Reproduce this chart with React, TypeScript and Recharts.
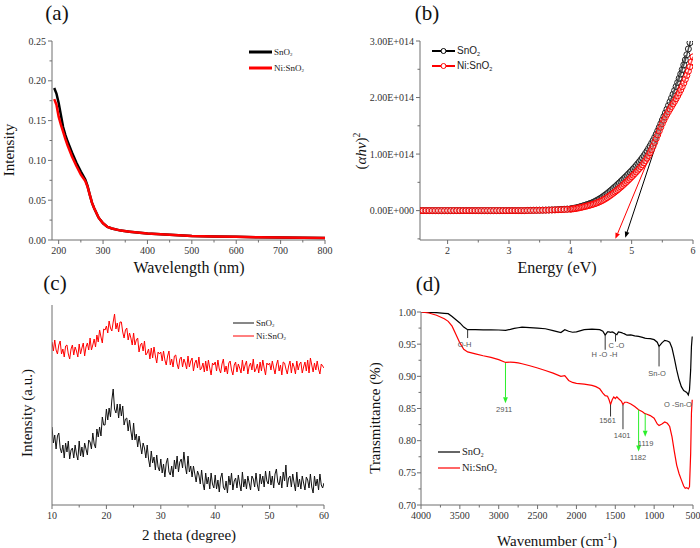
import React from 'react';
import { LineChart, Line, XAxis, YAxis, ReferenceLine, ReferenceDot } from 'recharts';

const SERIF = '"Liberation Serif", "Times New Roman", Times, serif';
const SANS = '"Liberation Sans", Arial, Helvetica, sans-serif';
const AXIS_DARK = '#6e6e6e';
const AXIS_LIGHT = '#b4b4b4';
const TICK_TEXT = '#333';
const RED = '#ff0000';
const GREEN = '#2bef2b';

// ---------- (a) UV-vis ----------
const UV_WAVELENGTH = [190, 195, 200, 205, 210, 215, 220, 230, 240, 250, 260, 265, 270, 275, 280, 290, 300, 310, 320, 340, 360, 400, 450, 500, 550, 600, 650, 700, 750, 800];
const UV_SNO2 = [0.191, 0.184, 0.172, 0.157, 0.142, 0.132, 0.124, 0.110, 0.097, 0.086, 0.076, 0.068, 0.057, 0.047, 0.040, 0.028, 0.021, 0.0165, 0.0145, 0.0118, 0.0105, 0.0082, 0.0065, 0.005, 0.0045, 0.004, 0.0035, 0.003, 0.0028, 0.0025];
const UV_NISNO2 = [0.177, 0.170, 0.155, 0.145, 0.136, 0.127, 0.119, 0.105, 0.093, 0.082, 0.074, 0.067, 0.057, 0.047, 0.040, 0.028, 0.021, 0.0165, 0.0145, 0.0118, 0.0105, 0.0082, 0.0065, 0.005, 0.0045, 0.004, 0.0035, 0.003, 0.0028, 0.0025];
const UV_X_TICKS = [200, 250, 300, 350, 400, 450, 500, 550, 600, 650, 700, 750, 800];
const UV_X_MAJOR = [200, 300, 400, 500, 600, 700, 800];
const UV_Y_TICKS = [0, 0.025, 0.05, 0.075, 0.1, 0.125, 0.15, 0.175, 0.2, 0.225, 0.25];
const UV_Y_MAJOR = [0, 0.05, 0.1, 0.15, 0.2, 0.25];

// ---------- (b) Tauc plot (values in units of 1E+014) ----------
const TAUC_FLAT_START = 1.55;
const TAUC_FLAT_STEP = 0.05;
const TAUC_RISE_START = 4.0;
const TAUC_RISE_STEP = 0.025;
const TAUC_SNO2_FLAT = [
  0, 0, 0, 0, 0, 0, 0, 0, 0, 0, 0, 0, 0, 0, 0, 0, 0, 0, 0, 0, 0, 0, 0, 0, 0, 0, 0, 0, 0, 0, 0, 0, 0, 0, 0,
  0.003, 0.004, 0.005, 0.006, 0.007, 0.008, 0.009, 0.011, 0.013, 0.015, 0.018, 0.021, 0.024, 0.027,
];
const TAUC_NISNO2_FLAT = [
  0, 0, 0, 0, 0, 0, 0, 0, 0, 0, 0, 0, 0, 0, 0, 0, 0, 0, 0, 0, 0, 0, 0, 0, 0, 0, 0, 0, 0, 0, 0, 0, 0, 0, 0,
  0.002, 0.003, 0.004, 0.005, 0.006, 0.007, 0.008, 0.009, 0.011, 0.013, 0.015, 0.017, 0.020, 0.022,
];
const TAUC_SNO2_RISE = [
  0.030, 0.034, 0.039, 0.044,
  0.050, 0.057, 0.064, 0.072,
  0.080, 0.088, 0.097, 0.106,
  0.115, 0.125, 0.135, 0.147,
  0.160, 0.175, 0.190, 0.205,
  0.222, 0.240, 0.260, 0.280,
  0.300, 0.322, 0.345, 0.368,
  0.392, 0.416, 0.440, 0.465,
  0.490, 0.516, 0.542, 0.568,
  0.595, 0.622, 0.650, 0.678,
  0.706, 0.736, 0.766, 0.797,
  0.829, 0.862, 0.896, 0.932,
  0.970, 1.010, 1.052, 1.096,
  1.142, 1.190, 1.240, 1.293,
  1.350, 1.410, 1.472, 1.536,
  1.600, 1.664, 1.728, 1.793,
  1.858, 1.924, 1.990, 2.057,
  2.125, 2.195, 2.266, 2.340,
  2.416, 2.495, 2.578, 2.665,
  2.758, 2.860, 2.970, 3.085,
  3.200,
];
const TAUC_NISNO2_RISE = [
  0.025, 0.028, 0.032, 0.036,
  0.040, 0.045, 0.051, 0.057,
  0.063, 0.069, 0.076, 0.083,
  0.090, 0.098, 0.106, 0.114,
  0.123, 0.133, 0.144, 0.156,
  0.168, 0.182, 0.197, 0.213,
  0.230, 0.249, 0.268, 0.288,
  0.308, 0.329, 0.350, 0.372,
  0.395, 0.418, 0.442, 0.467,
  0.492, 0.518, 0.544, 0.571,
  0.598, 0.626, 0.655, 0.684,
  0.714, 0.745, 0.777, 0.810,
  0.845, 0.885, 0.928, 0.975,
  1.025, 1.080, 1.140, 1.205,
  1.272, 1.340, 1.408, 1.475,
  1.540, 1.600, 1.655, 1.705,
  1.752, 1.798, 1.843, 1.888,
  1.933, 1.980, 2.030, 2.082,
  2.136, 2.194, 2.256, 2.322,
  2.392, 2.466, 2.545, 2.630,
  2.720,
];
const TAUC_TANGENT_SNO2 = [{ x: 5.88, y: 2.75 }, { x: 4.895, y: -0.48 }];
const TAUC_TANGENT_NISNO2 = [{ x: 5.9, y: 2.55 }, { x: 4.735, y: -0.5 }];
const TAUC_X_TICKS = [2, 2.5, 3, 3.5, 4, 4.5, 5, 5.5, 6];
const TAUC_X_MAJOR = [2, 3, 4, 5, 6];
const TAUC_Y_TICKS = [-0.5, 0, 0.5, 1, 1.5, 2, 2.5, 3];
const TAUC_Y_MAJOR = [0, 1, 2, 3];

// ---------- (c) XRD (arbitrary units) ----------
const XRD_START = 10;
const XRD_STEP = 0.25;
const XRD_SNO2 = [
  78, 62, 70, 56, 69, 72, 57, 52, 60, 47, 62, 53, 64, 46, 55, 57, 47, 60, 51, 45,
  64, 49, 58, 48, 62, 56, 50, 65, 63, 56, 72, 61, 57, 76, 68, 78, 69, 88, 80, 80,
  96, 85, 97, 88, 105, 116, 96, 92, 101, 87, 101, 89, 99, 80, 86, 87, 74, 85, 74, 65,
  82, 65, 71, 58, 69, 60, 51, 62, 57, 47, 60, 46, 38, 54, 42, 48, 35, 50, 38, 34,
  46, 32, 41, 28, 42, 47, 33, 30, 39, 28, 45, 36, 49, 33, 43, 46, 37, 53, 39, 31,
  49, 33, 39, 28, 39, 31, 23, 34, 30, 21, 35, 22, 15, 32, 21, 28, 16, 32, 21, 17,
  30, 16, 25, 13, 27, 32, 18, 15, 24, 12, 29, 20, 32, 15, 24, 27, 17, 30, 21, 14,
  33, 18, 26, 16, 29, 22, 15, 29, 26, 18, 32, 20, 14, 31, 21, 29, 18, 34, 24, 21,
  34, 20, 29, 17, 31, 36, 23, 20, 29, 17, 33, 24, 40, 18, 27, 29, 18, 31, 22, 14,
  33, 18, 26, 16, 29, 22, 15, 28, 25, 17, 31, 18, 12, 29, 19, 26, 15, 31, 20, 17,
  22,
];
const XRD_NISNO2 = [
  163, 154, 165, 155, 151, 160, 164, 151, 156, 148, 159, 160, 151, 146, 156, 160, 150, 158, 154, 148,
  161, 151, 157, 162, 149, 158, 162, 155, 167, 155, 160, 166, 158, 170, 163, 175, 168, 162, 176, 175,
  179, 172, 184, 177, 174, 183, 191, 176, 182, 173, 183, 183, 173, 167, 175, 177, 165, 172, 167, 160,
  172, 160, 165, 167, 153, 160, 162, 154, 164, 150, 152, 156, 146, 157, 147, 158, 149, 142, 153, 151,
  153, 144, 154, 145, 140, 149, 154, 140, 146, 138, 149, 150, 141, 136, 146, 148, 138, 146, 142, 136,
  149, 138, 144, 147, 134, 142, 145, 137, 148, 135, 137, 142, 133, 144, 134, 145, 137, 130, 142, 140,
  143, 134, 145, 136, 132, 141, 146, 133, 139, 131, 142, 144, 135, 130, 140, 143, 133, 141, 137, 132,
  145, 134, 140, 144, 131, 139, 142, 135, 146, 133, 136, 141, 132, 143, 134, 145, 137, 130, 142, 140,
  142, 135, 144, 137, 131, 140, 145, 134, 140, 130, 143, 142, 136, 131, 139, 144, 132, 142, 138, 131,
  144, 135, 141, 143, 132, 138, 143, 134, 145, 132, 147, 140, 133, 142, 135, 144, 136, 131, 141, 139,
  137,
];
const XRD_X_TICKS = [10, 15, 20, 25, 30, 35, 40, 45, 50, 55, 60];
const XRD_X_MAJOR = [10, 20, 30, 40, 50, 60];

// ---------- (d) FTIR ----------
const FTIR_WAVENUMBER = [4000, 3900, 3800, 3700, 3650, 3600, 3550, 3500, 3450, 3400, 3300, 3200, 3100, 3000, 2911, 2850, 2800, 2750, 2700, 2600, 2500, 2400, 2300, 2200, 2150, 2100, 2050, 2000, 1900, 1800, 1750, 1700, 1660, 1630, 1600, 1580, 1561, 1540, 1520, 1500, 1480, 1460, 1420, 1401, 1380, 1350, 1300, 1250, 1200, 1150, 1119, 1100, 1050, 1000, 960, 937, 900, 864, 830, 800, 770, 740, 710, 680, 650, 620, 600, 580, 560, 545, 530, 520, 510];
const FTIR_SNO2 = [1.0, 0.9995, 0.999, 0.998, 0.9974, 0.993, 0.988, 0.983, 0.9766, 0.9725, 0.9725, 0.9722, 0.9722, 0.972, 0.9715, 0.973, 0.9745, 0.9755, 0.9766, 0.9758, 0.975, 0.974, 0.971, 0.968, 0.9725, 0.97, 0.9685, 0.969, 0.9725, 0.9735, 0.973, 0.9725, 0.97, 0.964, 0.969, 0.969, 0.9685, 0.969, 0.968, 0.966, 0.9647, 0.969, 0.968, 0.967, 0.966, 0.964, 0.9645, 0.963, 0.962, 0.9605, 0.9595, 0.959, 0.9585, 0.957, 0.953, 0.9465, 0.952, 0.956, 0.955, 0.953, 0.944, 0.928, 0.91, 0.895, 0.884, 0.878, 0.8765, 0.875, 0.871, 0.879, 0.91, 0.9465, 0.962];
const FTIR_NISNO2 = [1.0, 0.9985, 0.995, 0.9896, 0.9855, 0.978, 0.965, 0.952, 0.942, 0.938, 0.935, 0.932, 0.9294, 0.926, 0.9216, 0.9222, 0.9216, 0.9208, 0.9195, 0.9164, 0.913, 0.909, 0.905, 0.9, 0.901, 0.8936, 0.8905, 0.889, 0.888, 0.886, 0.884, 0.8806, 0.874, 0.87, 0.869, 0.8635, 0.856, 0.8635, 0.868, 0.8655, 0.868, 0.8655, 0.861, 0.856, 0.8597, 0.8597, 0.857, 0.853, 0.848, 0.845, 0.842, 0.8415, 0.839, 0.835, 0.826, 0.8235, 0.826, 0.829, 0.827, 0.822, 0.806, 0.783, 0.762, 0.749, 0.739, 0.7295, 0.726, 0.727, 0.725, 0.7285, 0.78, 0.843, 0.8635];
const FTIR_X_TICKS = [4000, 3750, 3500, 3250, 3000, 2750, 2500, 2250, 2000, 1750, 1500, 1250, 1000, 750, 500];
const FTIR_X_MAJOR = [4000, 3500, 3000, 2500, 2000, 1500, 1000, 500];
const FTIR_Y_TICKS = [0.7, 0.725, 0.75, 0.775, 0.8, 0.825, 0.85, 0.875, 0.9, 0.925, 0.95, 0.975, 1.0];
const FTIR_Y_MAJOR = [0.7, 0.75, 0.8, 0.85, 0.9, 0.95, 1.0];
const FTIR_BAND_LINES = [
  { w: 3400, from: 0.9725, to: 0.9595 },
  { w: 1630, from: 0.964, to: 0.9413 },
  { w: 1497, from: 0.966, to: 0.954 },
  { w: 937, from: 0.9465, to: 0.9154 },
  { w: 1561, from: 0.856, to: 0.8375 },
  { w: 1401, from: 0.856, to: 0.8178 },
];
const FTIR_BAND_ARROWS = [
  { w: 2913, from: 0.9206, to: 0.858 },
  { w: 1200, from: 0.848, to: 0.783 },
  { w: 1115, from: 0.842, to: 0.806 },
];
const FTIR_BAND_LABELS = [
  { w: 3440, v: 0.949, t: 'O-H' },
  { w: 1640, v: 0.9335, t: 'H -O -H' },
  { w: 1484, v: 0.9475, t: 'C -O' },
  { w: 962, v: 0.905, t: 'Sn-O' },
  { w: 693, v: 0.8557, t: 'O -Sn-O' },
  { w: 2930, v: 0.848, t: '2911' },
  { w: 1600, v: 0.831, t: '1561' },
  { w: 1411, v: 0.808, t: '1401' },
  { w: 1206, v: 0.7736, t: '1182' },
  { w: 1110, v: 0.796, t: '1119' },
];

// ---------- build tables ----------
const uvData = UV_WAVELENGTH.map((w, i) => ({ w, a: UV_SNO2[i], b: UV_NISNO2[i] }));
const taucSno2 = [...TAUC_SNO2_FLAT, ...TAUC_SNO2_RISE];
const taucNi = [...TAUC_NISNO2_FLAT, ...TAUC_NISNO2_RISE];
const taucEnergy = [
  ...TAUC_SNO2_FLAT.map((_, i) => +(TAUC_FLAT_START + i * TAUC_FLAT_STEP).toFixed(3)),
  ...TAUC_SNO2_RISE.map((_, i) => +(TAUC_RISE_START + i * TAUC_RISE_STEP).toFixed(3)),
];
const taucData = taucEnergy.map((e, i) => ({ e, a: taucSno2[i], b: taucNi[i] }));
const xrdData = XRD_SNO2.map((v, i) => ({ t: +(XRD_START + i * XRD_STEP).toFixed(2), a: v, b: XRD_NISNO2[i] }));
const ftirData = FTIR_WAVENUMBER.map((w, i) => ({ w, a: FTIR_SNO2[i], b: FTIR_NISNO2[i] }));

// ---------- helpers ----------
function makeTick(side: 'left' | 'bottom', majors: number[], fmt: (v: number) => string, gap = 6) {
  return function Tick(props: any) {
    const { x, y, payload } = props;
    const v = Number(payload.value);
    const major = majors.some((m) => Math.abs(m - v) < 1e-6);
    const len = major ? 4 : 2.5;
    if (side === 'bottom') {
      return (
        <g>
          <line x1={x} y1={y} x2={x} y2={y + len} stroke={AXIS_DARK} strokeWidth={1} />
          {major && (
            <text x={x} y={y + 14} textAnchor="middle" fontSize={10} fontFamily={SERIF} fill={TICK_TEXT}>
              {fmt(v)}
            </text>
          )}
        </g>
      );
    }
    return (
      <g>
        <line x1={x} y1={y} x2={x - len} y2={y} stroke={AXIS_DARK} strokeWidth={1} />
        {major && (
          <text x={x - gap} y={y} textAnchor="end" dominantBaseline="central" fontSize={10} fontFamily={SERIF} fill={TICK_TEXT}>
            {fmt(v)}
          </text>
        )}
      </g>
    );
  };
}

function frameAxes(dx: number[], dy: number[], reversed = false) {
  return [
    <XAxis key="ftop" xAxisId="top" orientation="top" type="number" domain={dx} reversed={reversed} height={0} tick={false} tickLine={false} axisLine={{ stroke: AXIS_LIGHT }} />,
    <YAxis key="fright" yAxisId="right" orientation="right" type="number" domain={dy} width={0} tick={false} tickLine={false} axisLine={{ stroke: AXIS_LIGHT }} />,
  ];
}

function arrowShape(color: string, head: boolean) {
  return function Shape(p: any) {
    const { x1, y1, x2, y2 } = p;
    if ([x1, y1, x2, y2].some((n) => n === undefined || isNaN(n))) return <g />;
    const ang = Math.atan2(y2 - y1, x2 - x1);
    const L = 6;
    const W = 2.4;
    const bx = x2 - L * Math.cos(ang);
    const by = y2 - L * Math.sin(ang);
    const pts = `${x2},${y2} ${bx + W * Math.sin(ang)},${by - W * Math.cos(ang)} ${bx - W * Math.sin(ang)},${by + W * Math.cos(ang)}`;
    return (
      <g>
        <line x1={x1} y1={y1} x2={head ? bx : x2} y2={head ? by : y2} stroke={color} strokeWidth={1} />
        {head && <polygon points={pts} fill={color} />}
      </g>
    );
  };
}

function textShape(t: string) {
  return function Shape(p: any) {
    return (
      <text x={p.cx} y={p.cy} textAnchor="middle" dominantBaseline="central" fontSize={7.5} fontFamily={SANS} fill="#555">
        {t}
      </text>
    );
  };
}

const Sub2 = () => (
  <span style={{ fontSize: '0.55em', position: 'relative', top: '0.35em' }}>2</span>
);

function Txt({ x, y, size, rotate, children, family = SERIF }: any) {
  return (
    <div
      style={{
        position: 'absolute',
        left: x,
        top: y,
        transform: `translate(-50%, -50%)${rotate ? ' rotate(-90deg)' : ''}`,
        fontSize: size,
        fontFamily: family,
        color: '#111',
        whiteSpace: 'nowrap',
        lineHeight: 1,
      }}
    >
      {children}
    </div>
  );
}

function LegendRow({ x, y, len, color, width, marker, children, size, family }: any) {
  return (
    <div style={{ position: 'absolute', left: x, top: y - 8, height: 16, display: 'flex', alignItems: 'center', whiteSpace: 'nowrap' }}>
      <svg width={len} height={16} style={{ display: 'block' }}>
        <line x1={0} y1={8} x2={len} y2={8} stroke={color} strokeWidth={width} />
        {marker && <circle cx={len / 2} cy={8} r={2.5} fill="#fff" stroke={color} strokeWidth={1} />}
      </svg>
      <span style={{ fontSize: size, fontFamily: family, marginLeft: 2, color: '#222', lineHeight: 1 }}>{children}</span>
    </div>
  );
}

const fmt2 = (v: number) => v.toFixed(2);
const fmtInt = (v: number) => String(Math.round(v));
const fmtE = (v: number) => (v === 0 ? '0.00E+000' : `${v.toFixed(2)}E+014`);

export default function App() {
  return (
    <div style={{ position: 'absolute', left: 0, top: 0, width: 700, height: 548, background: '#fff', overflow: 'hidden' }}>
      {/* (a) */}
      <div style={{ position: 'absolute', left: 0, top: 0 }}>
        <LineChart width={350} height={274} data={uvData} margin={{ top: 41, right: 25, bottom: 0, left: 0 }}>
          <XAxis dataKey="w" type="number" domain={[185, 800]} ticks={UV_X_TICKS} interval={0} allowDataOverflow height={34} tickSize={0} tickMargin={0} tickLine={false} axisLine={{ stroke: AXIS_DARK }} tick={makeTick('bottom', UV_X_MAJOR, fmtInt)} />
          <YAxis type="number" domain={[0, 0.25]} ticks={UV_Y_TICKS} interval={0} allowDataOverflow width={52} tickSize={0} tickMargin={0} tickLine={false} axisLine={{ stroke: AXIS_DARK }} tick={makeTick('left', UV_Y_MAJOR, fmt2)} />
          {frameAxes([185, 800], [0, 0.25])}
          <Line dataKey="a" stroke="#000" strokeWidth={2.5} dot={false} activeDot={false} isAnimationActive={false} />
          <Line dataKey="b" stroke={RED} strokeWidth={2.5} dot={false} activeDot={false} isAnimationActive={false} />
        </LineChart>
      </div>

      {/* (b) */}
      <div style={{ position: 'absolute', left: 350, top: 0 }}>
        <LineChart width={350} height={274} data={taucData} margin={{ top: 41, right: 7, bottom: 0, left: 0 }}>
          <XAxis dataKey="e" type="number" domain={[1.55, 6]} ticks={TAUC_X_TICKS} interval={0} allowDataOverflow height={34} tickSize={0} tickMargin={0} tickLine={false} axisLine={{ stroke: AXIS_DARK }} tick={makeTick('bottom', TAUC_X_MAJOR, (v) => String(v))} />
          <YAxis type="number" domain={[-0.52, 3]} ticks={TAUC_Y_TICKS} interval={0} allowDataOverflow width={70} tickSize={0} tickMargin={0} tickLine={false} axisLine={{ stroke: AXIS_DARK }} tick={makeTick('left', TAUC_Y_MAJOR, fmtE)} />
          {frameAxes([1.55, 6], [-0.52, 3])}
          <Line dataKey="a" stroke="#000" strokeWidth={1.5} dot={{ r: 3, stroke: '#222', strokeWidth: 1, fill: '#fff', fillOpacity: 0.3 }} activeDot={false} isAnimationActive={false} />
          <Line dataKey="b" stroke={RED} strokeWidth={1.5} dot={{ r: 3, stroke: RED, strokeWidth: 1, fill: '#fff', fillOpacity: 0.3 }} activeDot={false} isAnimationActive={false} />
          <ReferenceLine segment={TAUC_TANGENT_NISNO2} ifOverflow="visible" shape={arrowShape(RED, true)} />
          <ReferenceLine segment={TAUC_TANGENT_SNO2} ifOverflow="visible" shape={arrowShape('#000', true)} />
        </LineChart>
      </div>

      {/* (c) */}
      <div style={{ position: 'absolute', left: 0, top: 274 }}>
        <LineChart width={350} height={274} data={xrdData} margin={{ top: 31, right: 26, bottom: 0, left: 0 }}>
          <XAxis dataKey="t" type="number" domain={[10, 60]} ticks={XRD_X_TICKS} interval={0} allowDataOverflow height={43} tickSize={0} tickMargin={0} tickLine={false} axisLine={{ stroke: AXIS_DARK }} tick={makeTick('bottom', XRD_X_MAJOR, fmtInt)} />
          <YAxis type="number" domain={[0, 200]} allowDataOverflow width={52} tick={false} tickLine={false} axisLine={{ stroke: AXIS_DARK }} />
          {frameAxes([10, 60], [0, 200])}
          <Line dataKey="a" stroke="#111" strokeWidth={1} dot={false} activeDot={false} isAnimationActive={false} />
          <Line dataKey="b" stroke={RED} strokeWidth={1} dot={false} activeDot={false} isAnimationActive={false} />
        </LineChart>
      </div>

      {/* (d) */}
      <div style={{ position: 'absolute', left: 350, top: 274 }}>
        <LineChart width={350} height={274} data={ftirData} margin={{ top: 38, right: 7, bottom: 0, left: 0 }}>
          <XAxis dataKey="w" type="number" domain={[500, 4000]} reversed ticks={FTIR_X_TICKS} interval={0} allowDataOverflow height={43} tickSize={0} tickMargin={0} tickLine={false} axisLine={{ stroke: AXIS_DARK }} tick={makeTick('bottom', FTIR_X_MAJOR, fmtInt)} />
          <YAxis type="number" domain={[0.7, 1.0]} ticks={FTIR_Y_TICKS} interval={0} allowDataOverflow width={71} tickSize={0} tickMargin={0} tickLine={false} axisLine={{ stroke: AXIS_DARK }} tick={makeTick('left', FTIR_Y_MAJOR, fmt2, 5)} />
          {frameAxes([500, 4000], [0.7, 1.0], true)}
          <Line dataKey="a" stroke="#000" strokeWidth={1.2} dot={false} activeDot={false} isAnimationActive={false} />
          <Line dataKey="b" stroke={RED} strokeWidth={1.2} dot={false} activeDot={false} isAnimationActive={false} />
          {FTIR_BAND_LINES.map((m, i) => (
            <ReferenceLine key={`bl${i}`} segment={[{ x: m.w, y: m.from }, { x: m.w, y: m.to }]} ifOverflow="visible" shape={arrowShape('#333', false)} />
          ))}
          {FTIR_BAND_ARROWS.map((m, i) => (
            <ReferenceLine key={`ba${i}`} segment={[{ x: m.w, y: m.from }, { x: m.w, y: m.to }]} ifOverflow="visible" shape={arrowShape(GREEN, true)} />
          ))}
          {FTIR_BAND_LABELS.map((m, i) => (
            <ReferenceDot key={`lb${i}`} x={m.w} y={m.v} ifOverflow="visible" shape={textShape(m.t)} />
          ))}
        </LineChart>
      </div>

      {/* panel titles */}
      <Txt x={57} y={13} size={21}>(a)</Txt>
      <Txt x={427} y={13} size={21}>(b)</Txt>
      <Txt x={55} y={283} size={21}>(c)</Txt>
      <Txt x={428} y={284} size={21}>(d)</Txt>

      {/* axis titles */}
      <Txt x={9} y={150} size={15} rotate>Intensity</Txt>
      <Txt x={189} y={268} size={16}>Wavelength (nm)</Txt>
      <Txt x={360} y={151} size={15} rotate>
        (<i>αhν</i>)<sup style={{ fontSize: '0.65em' }}>2</sup>
      </Txt>
      <Txt x={557} y={268} size={16}>Energy (eV)</Txt>
      <Txt x={27} y={413} size={15} rotate>Intensity (a.u.)</Txt>
      <Txt x={189} y={535} size={15}>2 theta (degree)</Txt>
      <Txt x={375} y={418} size={15} rotate>Transmittance (%)</Txt>
      <Txt x={557} y={540} size={15}>
        Wavenumber (cm<sup style={{ fontSize: '0.65em' }}>-1</sup>)
      </Txt>

      {/* legends */}
      <LegendRow x={249} y={52} len={23} color="#000" width={3} size={9} family={SERIF}>SnO<Sub2 /></LegendRow>
      <LegendRow x={249} y={68} len={23} color={RED} width={3} size={9} family={SERIF}>Ni:SnO<Sub2 /></LegendRow>

      <LegendRow x={432} y={51} len={23} color="#000" width={2} marker size={10} family={SANS}>SnO<Sub2 /></LegendRow>
      <LegendRow x={432} y={66} len={23} color={RED} width={2} marker size={10} family={SANS}>Ni:SnO<Sub2 /></LegendRow>

      <LegendRow x={233} y={323} len={21} color="#111" width={1} size={9} family={SERIF}>SnO<Sub2 /></LegendRow>
      <LegendRow x={233} y={336} len={21} color={RED} width={1} size={9} family={SERIF}>Ni:SnO<Sub2 /></LegendRow>

      <LegendRow x={438} y={452} len={22} color="#000" width={1.2} size={10.5} family={SERIF}>SnO<Sub2 /></LegendRow>
      <LegendRow x={438} y={468} len={22} color={RED} width={1.2} size={10.5} family={SERIF}>Ni:SnO<Sub2 /></LegendRow>
    </div>
  );
}
